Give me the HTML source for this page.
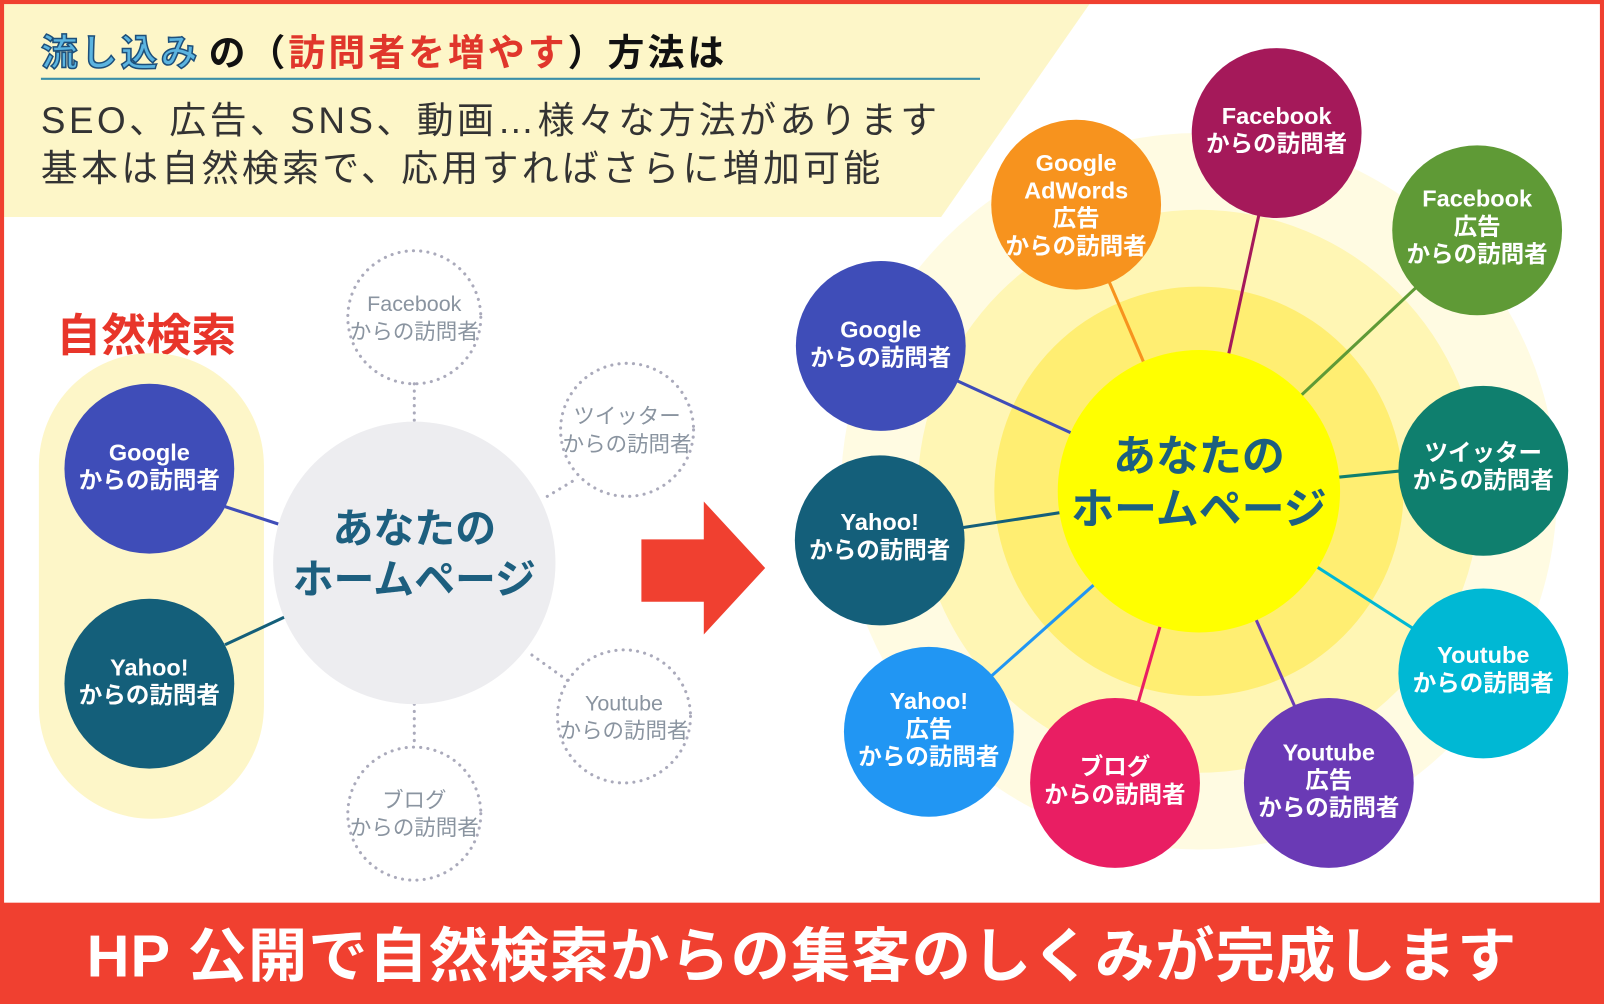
<!DOCTYPE html>
<html><head><meta charset="utf-8">
<style>
html,body{margin:0;padding:0;background:#fff;}
svg{display:block;}
text{font-family:"Liberation Sans","Noto Sans CJK JP",sans-serif;}
</style></head>
<body>
<svg width="1604" height="1004" viewBox="0 0 1568 981" preserveAspectRatio="none" xmlns="http://www.w3.org/2000/svg">
<rect x="0" y="0" width="1568" height="981" fill="#fff"/>
<polygon points="4,4 1065,4 920,212 4,212" fill="#fdf6c8"/>
<rect x="2" y="2" width="1564" height="977" fill="none" stroke="#f04030" stroke-width="4"/>
<!-- title -->
<text x="40" y="64" font-size="36" font-weight="bold" letter-spacing="3"><tspan fill="#5bb4e0" stroke="#1d4f7a" stroke-width="1.5">流し込み</tspan><tspan fill="#111" dx="8">の（</tspan><tspan fill="#e0362b">訪問者を増やす</tspan><tspan fill="#111">）方法は</tspan></text>
<line x1="40" y1="77" x2="958" y2="77" stroke="#3a8fa8" stroke-width="2"/>
<text x="40" y="130" font-size="36" fill="#333" letter-spacing="3.4">SEO、広告、SNS、動画…様々な方法があります</text>
<text x="40" y="177" font-size="36" fill="#333" letter-spacing="3.3">基本は自然検索で、応用すればさらに増加可能</text>
<!-- left -->
<text x="55" y="343" font-size="44" font-weight="bold" fill="#e8352a">自然検索</text>
<rect x="38" y="345" width="220" height="455" rx="110" fill="#fdf6c8"/>
<g stroke="#aab" stroke-width="3" stroke-dasharray="0.1,7" fill="none" stroke-linecap="round">
<line x1="405" y1="375" x2="405" y2="412"/>
<line x1="405" y1="688" x2="405" y2="730"/>
<line x1="535" y1="485" x2="560" y2="470"/>
<line x1="520" y1="640" x2="555" y2="665"/>
<circle cx="405" cy="310" r="65"/>
<circle cx="613" cy="420" r="65"/>
<circle cx="610" cy="700" r="65"/>
<circle cx="405" cy="795" r="65"/>
</g>
<g font-size="21" fill="#8a94a0" text-anchor="middle">
<text x="405" y="304">Facebook</text><text x="405" y="331">からの訪問者</text>
<text x="613" y="414">ツイッター</text><text x="613" y="441">からの訪問者</text>
<text x="610" y="694">Youtube</text><text x="610" y="721">からの訪問者</text>
<text x="405" y="789">ブログ</text><text x="405" y="816">からの訪問者</text>
</g>
<line x1="220" y1="495" x2="272" y2="512" stroke="#3f4db8" stroke-width="3"/>
<line x1="220" y1="630" x2="278" y2="603" stroke="#145f7a" stroke-width="3"/>
<circle cx="405" cy="550" r="138" fill="#ededf0"/>
<text x="405" y="530" font-size="40" font-weight="bold" fill="#1d5f7f" text-anchor="middle">あなたの</text>
<text x="405" y="580" font-size="40" font-weight="bold" fill="#1d5f7f" text-anchor="middle">ホームページ</text>
<g fill="#fff" font-size="23" font-weight="bold" text-anchor="middle">
<circle cx="146" cy="458" r="83" fill="#3f4db8"/>
<text x="146" y="450">Google</text><text x="146" y="477">からの訪問者</text>
<circle cx="146" cy="668" r="83" fill="#145f7a"/>
<text x="146" y="660">Yahoo!</text><text x="146" y="687">からの訪問者</text>
</g>
<!-- arrow -->
<polygon points="627,527 688,527 688,490 748,555 688,620 688,588 627,588" fill="#f04030"/>
<!-- right -->
<circle cx="1172" cy="480" r="350" fill="#fffbe2"/>
<circle cx="1172" cy="480" r="275" fill="#fff6b4"/>
<circle cx="1172" cy="480" r="200" fill="#ffee72"/>
<g stroke-width="3">
<line x1="1172" y1="480" x2="1052" y2="200" stroke="#f7931e"/>
<line x1="1172" y1="480" x2="1248" y2="130" stroke="#a5195a"/>
<line x1="1172" y1="480" x2="1444" y2="225" stroke="#5f9a36"/>
<line x1="1172" y1="480" x2="861" y2="338" stroke="#3f4db8"/>
<line x1="1172" y1="480" x2="1450" y2="452" stroke="#0f7f6e"/>
<line x1="1172" y1="480" x2="860" y2="528" stroke="#145f7a"/>
<line x1="1172" y1="480" x2="1450" y2="658" stroke="#00b8d4"/>
<line x1="1172" y1="480" x2="908" y2="715" stroke="#2196f3"/>
<line x1="1172" y1="480" x2="1090" y2="765" stroke="#e91e63"/>
<line x1="1172" y1="480" x2="1299" y2="765" stroke="#6a3ab5"/>
</g>
<circle cx="1172" cy="480" r="138" fill="#ffff00"/>
<text x="1172" y="460" font-size="42" font-weight="bold" fill="#1d5f7f" text-anchor="middle">あなたの</text>
<text x="1172" y="512" font-size="42" font-weight="bold" fill="#1d5f7f" text-anchor="middle">ホームページ</text>
<g fill="#fff" font-size="23" font-weight="bold" text-anchor="middle">
<circle cx="1052" cy="200" r="83" fill="#f7931e"/>
<text x="1052" y="167">Google</text><text x="1052" y="194">AdWords</text><text x="1052" y="221">広告</text><text x="1052" y="248">からの訪問者</text>
<circle cx="1248" cy="130" r="83" fill="#a5195a"/>
<text x="1248" y="121">Facebook</text><text x="1248" y="148">からの訪問者</text>
<circle cx="1444" cy="225" r="83" fill="#5f9a36"/>
<text x="1444" y="202">Facebook</text><text x="1444" y="229">広告</text><text x="1444" y="256">からの訪問者</text>
<circle cx="861" cy="338" r="83" fill="#3f4db8"/>
<text x="861" y="330">Google</text><text x="861" y="357">からの訪問者</text>
<circle cx="1450" cy="460" r="83" fill="#0f7f6e"/>
<text x="1450" y="450">ツイッター</text><text x="1450" y="477">からの訪問者</text>
<circle cx="860" cy="528" r="83" fill="#145f7a"/>
<text x="860" y="518">Yahoo!</text><text x="860" y="545">からの訪問者</text>
<circle cx="1450" cy="658" r="83" fill="#00b8d4"/>
<text x="1450" y="648">Youtube</text><text x="1450" y="675">からの訪問者</text>
<circle cx="908" cy="715" r="83" fill="#2196f3"/>
<text x="908" y="693">Yahoo!</text><text x="908" y="720">広告</text><text x="908" y="747">からの訪問者</text>
<circle cx="1090" cy="765" r="83" fill="#e91e63"/>
<text x="1090" y="757">ブログ</text><text x="1090" y="784">からの訪問者</text>
<circle cx="1299" cy="765" r="83" fill="#6a3ab5"/>
<text x="1299" y="743">Youtube</text><text x="1299" y="770">広告</text><text x="1299" y="797">からの訪問者</text>
</g>
<!-- bottom band -->
<rect x="0" y="882" width="1568" height="99" fill="#f04030"/>
<text x="784" y="954" font-size="58" font-weight="bold" fill="#fff" text-anchor="middle" letter-spacing="1">HP 公開で自然検索からの集客のしくみが完成します</text>
</svg>
</body></html>
